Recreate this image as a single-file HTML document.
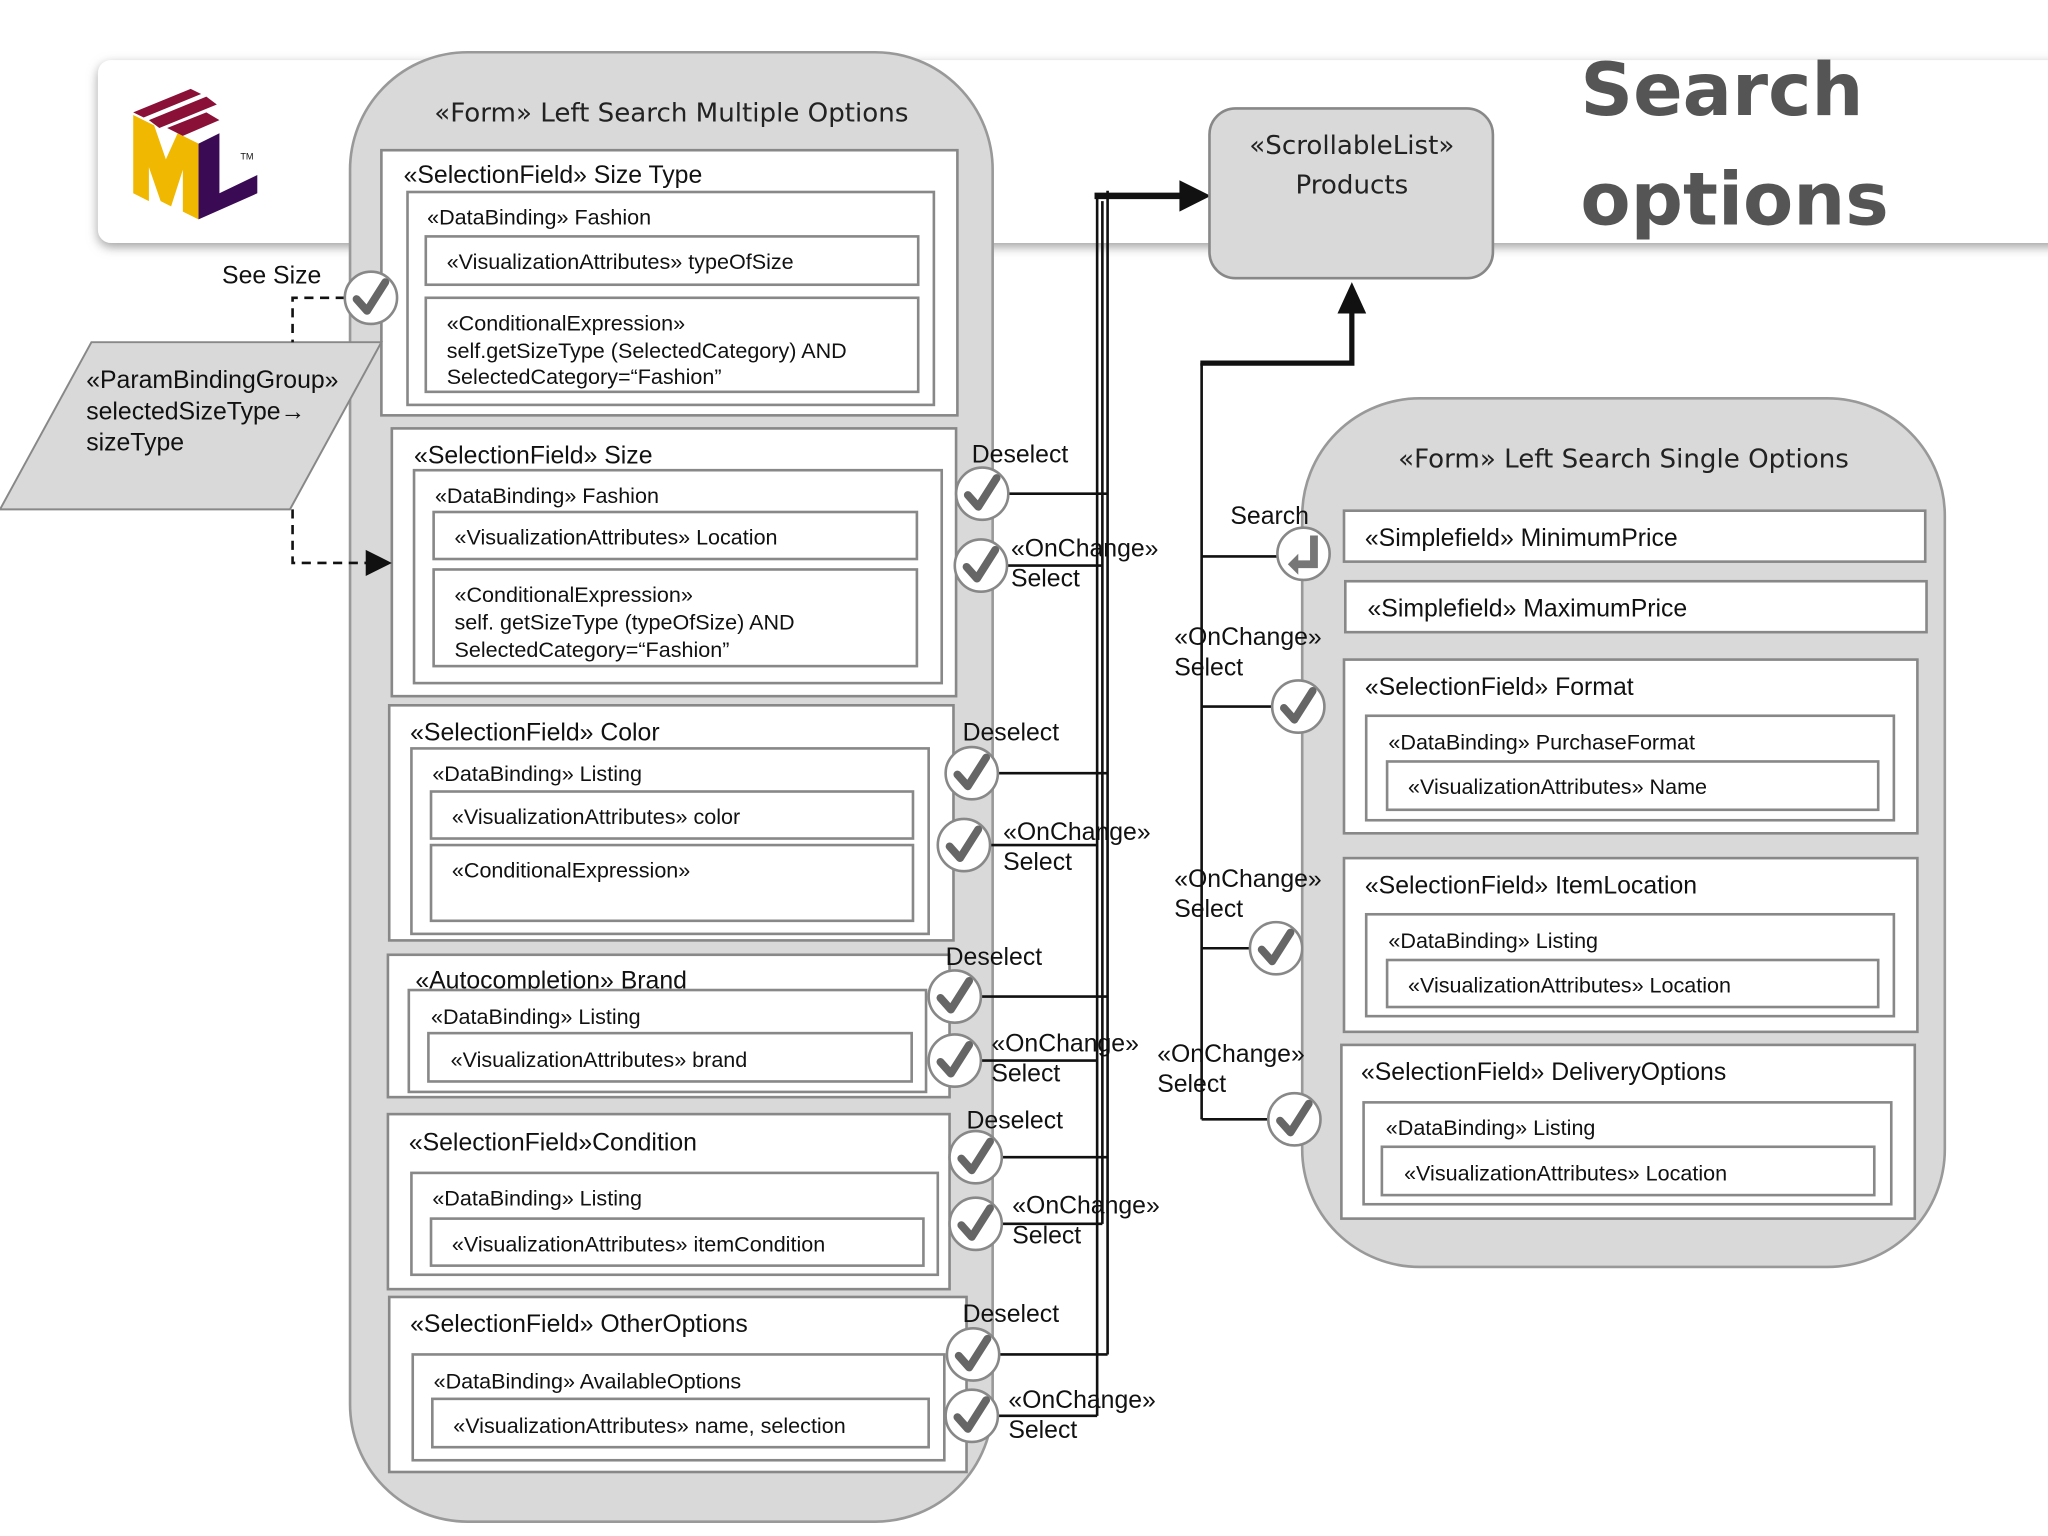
<!DOCTYPE html>
<html><head><meta charset="utf-8">
<style>
html,body{margin:0;padding:0;background:#fff;}
svg{display:block;}
text{font-family:"Liberation Sans",sans-serif;fill:#111;}
.t{font-size:19px;}
.s{font-size:16.5px;}
.f{font-family:"DejaVu Sans","Liberation Sans",sans-serif;font-size:20px;fill:#222;}
.b{fill:#fff;stroke:#888;stroke-width:2;}
.c{fill:#fff;stroke:#888;stroke-width:2;}
.ln{stroke:#111;stroke-width:2;fill:none;}
</style></head>
<body>
<svg width="2048" height="1536" viewBox="0 0 1568 1176" preserveAspectRatio="none">
<defs>
<filter id="sh" x="-5%" y="-20%" width="110%" height="150%"><feDropShadow dx="0" dy="3" stdDeviation="4" flood-color="#777" flood-opacity="0.7"/></filter>
<g id="ck"><circle r="20" class="c"/><path d="M-11,1 L-3,10 L11,-12" stroke="#666" stroke-width="6" fill="none" stroke-linecap="round" stroke-linejoin="round"/></g>
</defs>
<!-- banner -->
<rect x="75" y="46" width="1510" height="140" rx="10" fill="#fff" filter="url(#sh)"/>
<!-- logo -->
<polygon points="102,88 118,96 127,122 136,102 152,110 152,168 140,162 140,130 131,158 123,154 114,128 114,154 102,148" fill="#f0b800"/>
<polygon points="152,110 168,102 168,148 197,134 197,148 152,168" fill="#3a0a55"/>
<polygon points="102,86 146,68 154,72 110,90" fill="#8a1038"/>
<polygon points="114,92 158,74 166,80 122,98" fill="#8a1038"/>
<polygon points="128,98 158,86 168,92 140,104" fill="#8a1038"/>
<text x="184" y="122" style="font-size:7px">TM</text>
<text x="1210" y="88" style="font-family:'DejaVu Sans',sans-serif;font-size:56px;font-weight:bold;fill:#555">Search</text>
<text x="1210" y="172" style="font-family:'DejaVu Sans',sans-serif;font-size:56px;font-weight:bold;fill:#555">options</text>

<!-- left form -->
<rect x="268" y="40" width="492" height="1125" rx="90" fill="#d9d9d9" stroke="#999" stroke-width="2"/>
<text x="514" y="93" text-anchor="middle" class="f">«Form» Left Search Multiple Options</text>

<rect x="292" y="115" width="441" height="203" class="b"/>
<text x="309" y="140" class="t">«SelectionField» Size Type</text>
<rect x="312" y="147" width="403" height="163" class="b"/>
<text x="327" y="172" class="s">«DataBinding» Fashion</text>
<rect x="326" y="181" width="377" height="37" class="b"/>
<text x="342" y="206" class="s">«VisualizationAttributes» typeOfSize</text>
<rect x="326" y="228" width="377" height="72" class="b"/>
<text x="342" y="253" class="s">«ConditionalExpression»</text>
<text x="342" y="274" class="s">self.getSizeType (SelectedCategory) AND</text>
<text x="342" y="294" class="s">SelectedCategory=“Fashion”</text>

<rect x="300" y="328" width="432" height="205" class="b"/>
<text x="317" y="355" class="t">«SelectionField» Size</text>
<rect x="317" y="360" width="404" height="163" class="b"/>
<text x="333" y="385" class="s">«DataBinding» Fashion</text>
<rect x="332" y="392" width="370" height="36" class="b"/>
<text x="348" y="417" class="s">«VisualizationAttributes» Location</text>
<rect x="332" y="436" width="370" height="74" class="b"/>
<text x="348" y="461" class="s">«ConditionalExpression»</text>
<text x="348" y="482" class="s">self. getSizeType (typeOfSize) AND</text>
<text x="348" y="503" class="s">SelectedCategory=“Fashion”</text>

<rect x="298" y="540" width="432" height="180" class="b"/>
<text x="314" y="567" class="t">«SelectionField» Color</text>
<rect x="315" y="573" width="396" height="142" class="b"/>
<text x="331" y="598" class="s">«DataBinding» Listing</text>
<rect x="330" y="606" width="369" height="36" class="b"/>
<text x="346" y="631" class="s">«VisualizationAttributes» color</text>
<rect x="330" y="647" width="369" height="58" class="b"/>
<text x="346" y="672" class="s">«ConditionalExpression»</text>

<rect x="297" y="731" width="430" height="109" class="b"/>
<text x="318" y="757" class="t">«Autocompletion» Brand</text>
<rect x="313" y="758" width="396" height="78" class="b"/>
<text x="330" y="784" class="s">«DataBinding» Listing</text>
<rect x="328" y="791" width="370" height="37" class="b"/>
<text x="345" y="817" class="s">«VisualizationAttributes» brand</text>

<rect x="297" y="853" width="430" height="134" class="b"/>
<text x="313" y="881" class="t">«SelectionField»Condition</text>
<rect x="315" y="898" width="403" height="78" class="b"/>
<text x="331" y="923" class="s">«DataBinding» Listing</text>
<rect x="330" y="933" width="377" height="36" class="b"/>
<text x="346" y="958" class="s">«VisualizationAttributes» itemCondition</text>

<rect x="298" y="993" width="442" height="134" class="b"/>
<text x="314" y="1020" class="t">«SelectionField» OtherOptions</text>
<rect x="316" y="1037" width="407" height="81" class="b"/>
<text x="332" y="1063" class="s">«DataBinding» AvailableOptions</text>
<rect x="331" y="1071" width="380" height="37" class="b"/>
<text x="347" y="1097" class="s">«VisualizationAttributes» name, selection</text>

<!-- param binding -->
<polygon points="70,262 292,262 222,390 0,390" fill="#d9d9d9" stroke="#888" stroke-width="1.5"/>
<text x="66" y="297" class="t">«ParamBindingGroup»</text>
<text x="66" y="321" class="t">selectedSizeType→</text>
<text x="66" y="345" class="t">sizeType</text>
<text x="170" y="217" class="t">See Size</text>
<path d="M264,228 H224 V262 M224,390 V431 H282" stroke="#111" stroke-width="2" stroke-dasharray="7,5" fill="none"/>
<polygon points="280,421 300,431 280,441" fill="#111"/>

<!-- connectors left -->
<path class="ln" d="M772,378 H848 M771,433 H844 M764,592 H848 M758,647 H840 M751,763 H848 M751,812 H840 M767,886 H848 M767,937 H844 M765,1037 H848 M764,1084 H840"/>
<path class="ln" d="M840,150 V1084 M844,154 V937 M848,146 V1037"/>
<path d="M838,150 H905" stroke="#111" stroke-width="5"/>
<polygon points="903,138 927,150 903,162" fill="#111"/>

<!-- Products -->
<rect x="926" y="83" width="217" height="130" rx="20" fill="#d9d9d9" stroke="#888" stroke-width="2"/>
<text x="1035" y="118" text-anchor="middle" class="f">«ScrollableList»</text>
<text x="1035" y="148" text-anchor="middle" class="f">Products</text>

<!-- right form -->
<rect x="997" y="305" width="492" height="665" rx="90" fill="#d9d9d9" stroke="#999" stroke-width="2"/>
<text x="1243" y="358" text-anchor="middle" class="f">«Form» Left Search Single Options</text>
<rect x="1029" y="391" width="445" height="39" class="b"/>
<text x="1045" y="418" class="t">«Simplefield» MinimumPrice</text>
<rect x="1030" y="445" width="445" height="39" class="b"/>
<text x="1047" y="472" class="t">«Simplefield» MaximumPrice</text>
<rect x="1029" y="505" width="439" height="133" class="b"/>
<text x="1045" y="532" class="t">«SelectionField» Format</text>
<rect x="1046" y="548" width="404" height="80" class="b"/>
<text x="1063" y="574" class="s">«DataBinding» PurchaseFormat</text>
<rect x="1062" y="583" width="376" height="37" class="b"/>
<text x="1078" y="608" class="s">«VisualizationAttributes» Name</text>
<rect x="1029" y="657" width="439" height="133" class="b"/>
<text x="1045" y="684" class="t">«SelectionField» ItemLocation</text>
<rect x="1046" y="700" width="404" height="78" class="b"/>
<text x="1063" y="726" class="s">«DataBinding» Listing</text>
<rect x="1062" y="735" width="376" height="36" class="b"/>
<text x="1078" y="760" class="s">«VisualizationAttributes» Location</text>
<rect x="1027" y="800" width="439" height="133" class="b"/>
<text x="1042" y="827" class="t">«SelectionField» DeliveryOptions</text>
<rect x="1044" y="844" width="404" height="78" class="b"/>
<text x="1061" y="869" class="s">«DataBinding» Listing</text>
<rect x="1058" y="878" width="377" height="37" class="b"/>
<text x="1075" y="904" class="s">«VisualizationAttributes» Location</text>

<!-- right connectors -->
<path class="ln" d="M920,278 V857 M978,426 H920 M974,541 H920 M957,726 H920 M971,857 H920"/>
<path d="M919,278 H1035 V238" stroke="#111" stroke-width="4" fill="none"/>
<polygon points="1024,240 1035,216 1046,240" fill="#111"/>

<!-- checks -->
<use href="#ck" x="284" y="228"/>
<use href="#ck" x="752" y="378"/><use href="#ck" x="751" y="433"/>
<use href="#ck" x="744" y="592"/><use href="#ck" x="738" y="647"/>
<use href="#ck" x="731" y="763"/><use href="#ck" x="731" y="812"/>
<use href="#ck" x="747" y="886"/><use href="#ck" x="747" y="937"/>
<use href="#ck" x="745" y="1037"/><use href="#ck" x="744" y="1084"/>
<use href="#ck" x="994" y="541"/><use href="#ck" x="977" y="726"/><use href="#ck" x="991" y="857"/>
<circle cx="998" cy="424" r="20" class="c"/>
<path d="M1006,410 V432 H992" stroke="#777" stroke-width="6" fill="none"/>
<polygon points="986,432 994,424 994,440" fill="#777"/>

<!-- labels -->
<text x="744" y="354" class="t">Deselect</text>
<text x="774" y="426" class="t">«OnChange»</text><text x="774" y="449" class="t">Select</text>
<text x="737" y="567" class="t">Deselect</text>
<text x="768" y="643" class="t">«OnChange»</text><text x="768" y="666" class="t">Select</text>
<text x="724" y="739" class="t">Deselect</text>
<text x="759" y="805" class="t">«OnChange»</text><text x="759" y="828" class="t">Select</text>
<text x="740" y="864" class="t">Deselect</text>
<text x="775" y="929" class="t">«OnChange»</text><text x="775" y="952" class="t">Select</text>
<text x="737" y="1012" class="t">Deselect</text>
<text x="772" y="1078" class="t">«OnChange»</text><text x="772" y="1101" class="t">Select</text>
<text x="942" y="401" class="t">Search</text>
<text x="899" y="494" class="t">«OnChange»</text><text x="899" y="517" class="t">Select</text>
<text x="899" y="679" class="t">«OnChange»</text><text x="899" y="702" class="t">Select</text>
<text x="886" y="813" class="t">«OnChange»</text><text x="886" y="836" class="t">Select</text>
</svg>
</body></html>
